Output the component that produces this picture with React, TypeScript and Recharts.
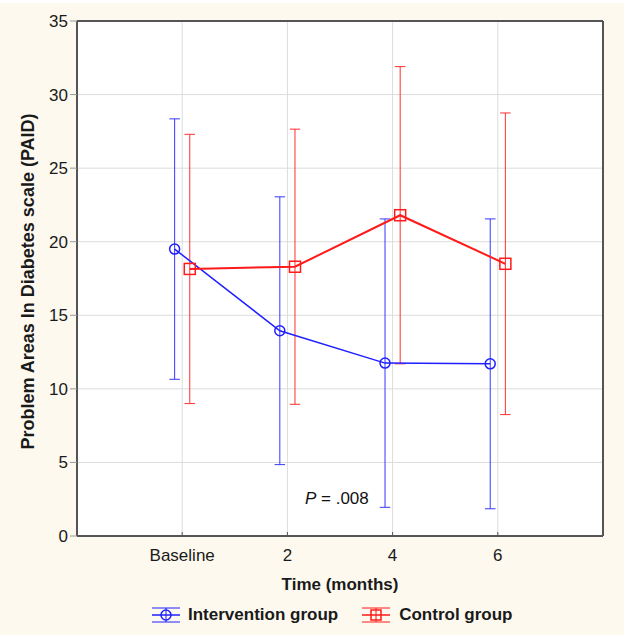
import { CartesianGrid, ComposedChart, Label, Line, ReferenceDot, XAxis, YAxis } from 'recharts';

const timepoints = ['Baseline', '2', '4', '6'];
const interventionMean = [19.5, 13.95, 11.75, 11.7];
const interventionErr = [8.85, 9.1, 9.8, 9.85];
const controlMean = [18.15, 18.3, 21.8, 18.5];
const controlErr = [9.15, 9.35, 10.1, 10.25];
const yTicks = [0, 5, 10, 15, 20, 25, 30, 35];
const rightTicks = [0, 1, 2, 3, 4, 5, 6, 7, 8];
const pValue = '.008';

// small horizontal dodge so the two groups don't overlap
const dodge = 0.072;
const capHalf = 0.05;
const BLUE = '#1f1fff';
const BLUE_ERR = '#3636ff';
const RED = '#ff1a1a';
const RED_ERR = '#ff3030';
const AXIS = '#555';
const FONT = '"Liberation Sans", Arial, sans-serif';

const interventionData = timepoints.map((t, i) => ({ x: i + 1 - dodge, mean: interventionMean[i], err: interventionErr[i] }));
const controlData = timepoints.map((t, i) => ({ x: i + 1 + dodge, mean: controlMean[i], err: controlErr[i] }));

// error bars as broken line segments (null breaks the path)
const whiskers = (rows: { x: number; mean: number; err: number }[]) =>
  rows.flatMap((r) => [
    { x: r.x, v: r.mean - r.err },
    { x: r.x, v: r.mean + r.err },
    { x: r.x, v: null },
    { x: r.x - capHalf, v: r.mean + r.err },
    { x: r.x + capHalf, v: r.mean + r.err },
    { x: r.x, v: null },
    { x: r.x - capHalf, v: r.mean - r.err },
    { x: r.x + capHalf, v: r.mean - r.err },
    { x: r.x, v: null },
  ]);

const CircleDot = (props: any) => {
  const { cx, cy, index } = props;
  return <circle key={`c-${index}`} cx={cx} cy={cy} r={5} fill="none" stroke={BLUE} strokeWidth={1.5} />;
};

const SquareDot = (props: any) => {
  const { cx, cy, index } = props;
  return <rect key={`s-${index}`} x={cx - 5.5} y={cy - 5.5} width={11} height={11} fill="none" stroke={RED} strokeWidth={1.5} />;
};

const YTitle = ({ viewBox }: any) => {
  const cx = viewBox.x + 28;
  const cy = viewBox.y + viewBox.height / 2 + 3;
  return (
    <text x={cx} y={cy} dy="0.35em" transform={`rotate(-90 ${cx} ${cy})`} textAnchor="middle" fontSize={18} fontWeight={700} fill="#1a1a1a">
      Problem Areas In Diabetes scale (PAID)
    </text>
  );
};

const PNote = ({ viewBox }: any) => {
  const x = viewBox.x + viewBox.width / 2;
  const y = viewBox.y + viewBox.height / 2;
  return (
    <text x={x} y={y} dy="0.35em" textAnchor="middle" fontSize={17} fill="#111">
      <tspan fontStyle="italic">P</tspan>
      {` = ${pValue}`}
    </text>
  );
};

const LegendIcon = ({ color, square }: { color: string; square?: boolean }) => (
  <svg width={28} height={18} style={{ display: 'block' }}>
    <line x1={0} x2={28} y1={2} y2={2} stroke={color} strokeWidth={1} />
    <line x1={0} x2={28} y1={9} y2={9} stroke={color} strokeWidth={1.5} />
    <line x1={0} x2={28} y1={16} y2={16} stroke={color} strokeWidth={1} />
    <line x1={14} x2={14} y1={2} y2={16} stroke={color} strokeWidth={1} />
    {square ? (
      <rect x={9} y={4} width={10} height={10} fill="none" stroke={color} strokeWidth={1.5} />
    ) : (
      <circle cx={14} cy={9} r={5} fill="none" stroke={color} strokeWidth={1.5} />
    )}
  </svg>
);

export default function App() {
  return (
    <div style={{ position: 'fixed', left: 0, top: 0, width: 624, height: 635, background: '#fff', fontFamily: FONT }}>
      <div style={{ position: 'absolute', left: 0, top: 3, width: 624, height: 632, background: '#fdf9ef' }} />
      <div style={{ position: 'absolute', left: 0, top: 0 }}>
        <ComposedChart width={624} height={635} margin={{ top: 0, right: 0, bottom: 0, left: 0 }}>
          <CartesianGrid stroke="#dcdcdc" fill="#fff" />
          <XAxis
            dataKey="x"
            type="number"
            domain={[0, 5]}
            ticks={[1, 2, 3, 4]}
            tickFormatter={(v: number) => timepoints[Math.round(v) - 1]}
            height={99}
            tickSize={-4}
            tickMargin={17}
            axisLine={{ stroke: AXIS, strokeWidth: 2 }}
            tickLine={{ stroke: AXIS }}
            tick={{ fill: '#1a1a1a', fontSize: 17 }}
          >
            <Label value="Time (months)" position="insideTop" offset={42} style={{ fontWeight: 700, fontSize: 17, fill: '#1a1a1a' }} />
          </XAxis>
          <XAxis
            xAxisId="top"
            orientation="top"
            type="number"
            domain={[0, 5]}
            ticks={[1, 2, 3, 4]}
            height={21}
            tick={false}
            tickSize={-4}
            axisLine={{ stroke: AXIS, strokeWidth: 2 }}
            tickLine={{ stroke: AXIS }}
          />
          <YAxis
            type="number"
            domain={[0, 35]}
            ticks={yTicks}
            width={77}
            tickSize={7}
            tickMargin={2}
            axisLine={{ stroke: AXIS, strokeWidth: 2 }}
            tickLine={{ stroke: '#999' }}
            tick={{ fill: '#1a1a1a', fontSize: 17 }}
          >
            <Label content={<YTitle />} />
          </YAxis>
          <YAxis
            yAxisId="right"
            orientation="right"
            type="number"
            domain={[0, 8]}
            ticks={rightTicks}
            width={21}
            tick={false}
            tickSize={-4}
            axisLine={{ stroke: AXIS, strokeWidth: 2 }}
            tickLine={{ stroke: '#333' }}
          />
          <Line
            data={whiskers(interventionData)}
            dataKey="v"
            type="linear"
            stroke={BLUE_ERR}
            strokeWidth={1}
            dot={false}
            activeDot={false}
            legendType="none"
            isAnimationActive={false}
          />
          <Line
            data={whiskers(controlData)}
            dataKey="v"
            type="linear"
            stroke={RED_ERR}
            strokeWidth={1}
            dot={false}
            activeDot={false}
            legendType="none"
            isAnimationActive={false}
          />
          <Line
            data={interventionData}
            dataKey="mean"
            name="Intervention group"
            type="linear"
            stroke={BLUE}
            strokeWidth={1.5}
            dot={CircleDot}
            activeDot={false}
            isAnimationActive={false}
          />
          <Line
            data={controlData}
            dataKey="mean"
            name="Control group"
            type="linear"
            stroke={RED}
            strokeWidth={2}
            dot={SquareDot}
            activeDot={false}
            isAnimationActive={false}
          />
          <ReferenceDot x={2.47} y={2.6} r={0} fill="none" stroke="none" ifOverflow="visible" label={<PNote />} />
        </ComposedChart>
      </div>
      <div
        style={{
          position: 'absolute',
          left: 152,
          top: 605,
          display: 'flex',
          alignItems: 'center',
          fontSize: 17,
          fontWeight: 700,
          color: '#1a1a1a',
          lineHeight: '20px',
        }}
      >
        <LegendIcon color={BLUE} />
        <span style={{ marginLeft: 8 }}>Intervention group</span>
        <span style={{ width: 24 }} />
        <LegendIcon color={RED} square />
        <span style={{ marginLeft: 9 }}>Control group</span>
      </div>
    </div>
  );
}
